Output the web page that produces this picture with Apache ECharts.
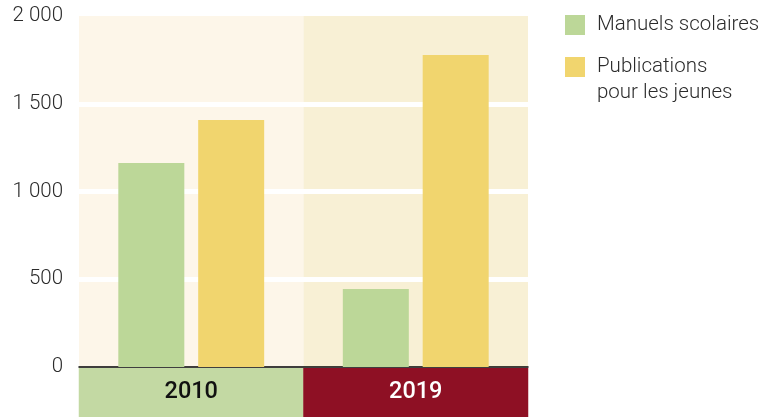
<!DOCTYPE html>
<html>
<head>
<meta charset="utf-8">
<script src="https://cdn.jsdelivr.net/npm/echarts@6/dist/echarts.min.js"></script>
<style>
html, body { margin: 0; padding: 0; background: #fff; }
#chart { width: 766px; height: 417px; }
</style>
</head>
<body>
<div id="chart"></div>
<script>
// categories and values
var years = ['2010', '2019'];
var manuels = [1162, 444];
var publications = [1407, 1778];
var yTicks = [0, 500, 1000, 1500, 2000];

var chart = echarts.init(document.getElementById('chart'));

function fmtNum(v) {
    // thousands separated with a space
    return String(v).replace(/\B(?=(\d{3})+(?!\d))/g, ' ');
}

var legendText = { fontSize: 20.5, fontWeight: 300, color: '#2b2b2b', fontFamily: 'Roboto', lineHeight: 26, padding: [0, 0, 0, 7] };

var option = {
    animation: false,
    textStyle: { fontFamily: 'Roboto' },
    grid: { left: 79, right: 238, top: 16, bottom: 50 },
    legend: [
        {
            left: 565, top: 12, orient: 'vertical', padding: 0,
            itemWidth: 20, itemHeight: 20, icon: 'rect',
            selectedMode: false,
            data: ['Manuels scolaires'],
            textStyle: legendText
        },
        {
            left: 565, top: 28, orient: 'vertical', padding: 0,
            itemWidth: 20, itemHeight: 20, icon: 'rect',
            selectedMode: false,
            data: ['Publications pour les jeunes'],
            // empty first line keeps "Publications" level with the square
            formatter: function () { return '\nPublications\npour les jeunes'; },
            textStyle: legendText
        }
    ],
    xAxis: {
        type: 'category',
        data: years,
        axisTick: { show: false },
        axisLine: { lineStyle: { color: '#000', width: 1.5 } },
        splitArea: { show: true, areaStyle: { color: ['#fdf6e9', '#f8f0d5'] } },
        axisLabel: {
            interval: 0,
            margin: 1,
            formatter: function (v) {
                return v === '2010' ? '{a|' + v + '}' : '{b|' + v + '}';
            },
            rich: {
                a: {
                    width: 225, height: 49, lineHeight: 49, align: 'center',
                    backgroundColor: '#c3d9a3', color: '#111',
                    fontSize: 23.5, fontWeight: 500, fontFamily: 'Roboto'
                },
                b: {
                    width: 225, height: 49, lineHeight: 49, align: 'center',
                    backgroundColor: '#8e1024', color: '#fff',
                    fontSize: 23.5, fontWeight: 500, fontFamily: 'Roboto'
                }
            }
        }
    },
    yAxis: {
        type: 'value',
        z: 3,
        min: yTicks[0],
        max: yTicks[yTicks.length - 1],
        interval: 500,
        axisLine: { show: false },
        axisTick: { show: false },
        axisLabel: {
            margin: 16, fontSize: 20.5, fontWeight: 300, color: '#2b2b2b',
            formatter: fmtNum
        },
        splitLine: {
            // no white line at 0 (axis line) and 2000 (top edge)
            lineStyle: { color: ['rgba(0,0,0,0)', '#fff', '#fff', '#fff', 'rgba(0,0,0,0)'], width: 5 }
        }
    },
    series: [
        {
            name: 'Manuels scolaires',
            type: 'bar',
            z: 5,
            data: manuels,
            barWidth: 66,
            barGap: '21%',
            itemStyle: { color: '#bcd798' }
        },
        {
            name: 'Publications pour les jeunes',
            type: 'bar',
            z: 5,
            data: publications,
            barWidth: 66,
            itemStyle: { color: '#f1d56e' }
        }
    ]
};

chart.setOption(option);
</script>
</body>
</html>
